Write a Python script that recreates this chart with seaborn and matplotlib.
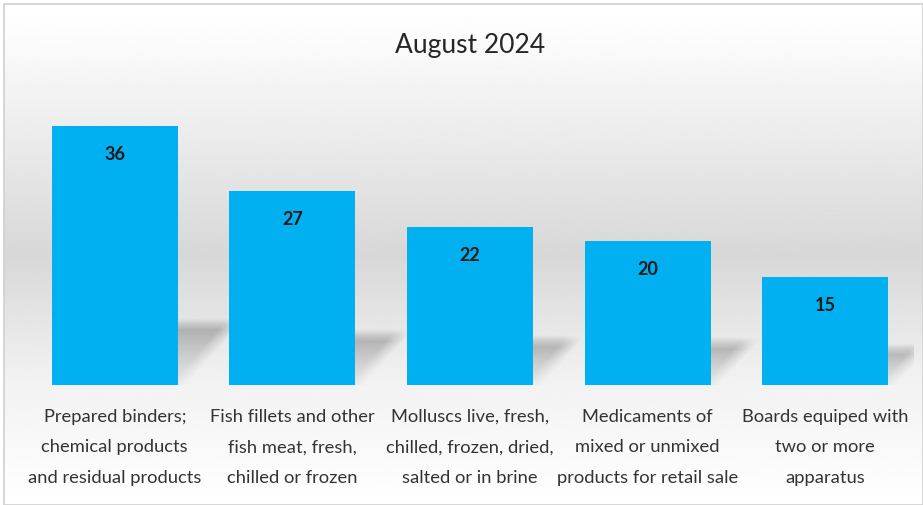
"""
August 2024 bar chart: top product groups
"""

import numpy as np
import pandas as pd
import matplotlib.pyplot as plt
import seaborn as sns
from matplotlib.patches import Rectangle

# %%
categories = [
    "Prepared binders;\nchemical products\nand residual products",
    "Fish fillets and other\nfish meat, fresh,\nchilled or frozen",
    "Molluscs live, fresh,\nchilled, frozen, dried,\nsalted or in brine",
    "Medicaments of\nmixed or unmixed\nproducts for retail sale",
    "Boards equiped with\ntwo or more\napparatus",
]
values = [36, 27, 22, 20, 15]
title = "August 2024"

df = pd.DataFrame({"category": categories, "value": values})

# %%
sns.set_style("white")
plt.rcParams["font.family"] = ["Lato", "DejaVu Sans"]

fig = plt.figure(figsize=(9.23, 5.05), dpi=100)

# background gradient (white -> light grey -> white)
bg = fig.add_axes([0.004, 0.0, 0.996, 0.992], zorder=0)
ys = np.linspace(0, 1, 256)
shade = np.interp(ys, [0, 0.06, 0.5, 0.76, 1.0], [1.0, 0.99, 0.845, 0.95, 1.0])
bg.imshow(shade[:, None], cmap="gray", vmin=0, vmax=1, aspect="auto",
          extent=[0, 1, 1, 0])
bg.set_xlim(0, 1)
bg.set_ylim(1, 0)
bg.axis("off")
bg.add_patch(Rectangle((0, 0), 1, 1, transform=bg.transAxes, fill=False,
                       edgecolor="#d0d0d0", lw=1.2, clip_on=False))

ax = fig.add_axes([26 / 923, 1 - 385 / 505, (914 - 26) / 923, (385 - 97) / 505],
                  zorder=1)
ax.patch.set_alpha(0)

bar_w = 0.71
sns.barplot(data=df, x="category", y="value", color="#00B0F0", width=bar_w,
            saturation=1, linewidth=0, edgecolor="none", ax=ax, zorder=3)

# soft perspective shadows behind bars
px_x, px_y = 178.0, 7.2  # pixels per data unit
for i, v in enumerate(values):
    left, right = i - bar_w / 2, i + bar_w / 2
    hs = 0.17 * v + 2.5
    dx = hs * 0.036
    xx = np.linspace(left, right + dx + 0.1, 200)
    yy = np.linspace(0, hs + 0.8, 80)
    X, Y = np.meshgrid(xx, yy)
    t = np.clip(Y / hs, 0, 1)
    d_edge = (right + dx * t - X) * px_x
    d_top = (hs - Y) * px_y
    soft = np.clip(d_edge / 18 + 0.5, 0, 1) * np.clip(d_top / 12 + 0.4, 0, 1)
    alpha = (0.10 + 0.30 * t ** 1.5) * soft
    img = np.zeros((80, 200, 4))
    img[..., :3] = 0.3
    img[..., 3] = alpha
    ax.imshow(img, extent=[xx[0], xx[-1], 0, yy[-1]], origin="lower",
              aspect="auto", zorder=2, interpolation="bilinear")

ax.set_ylim(0, 40)
ax.set_xlim(-0.5, len(values) - 0.5)

for i, v in enumerate(values):
    ax.text(i, v - 4.0, str(v), ha="center", va="center", fontsize=13,
            fontweight="bold", color="#1a1a1a", zorder=4)

ax.set_xlabel("")
ax.set_ylabel("")
ax.set_yticks([])
ax.tick_params(axis="x", length=0, pad=17, labelsize=13.2, labelcolor="#333333")
for lab in ax.get_xticklabels():
    lab.set_linespacing(2.12)
for sp in ax.spines.values():
    sp.set_visible(False)

fig.text(470 / 923, 1 - 45 / 505, title, ha="center", va="center",
         fontsize=19, color="#262626")

fig.savefig("out.png", dpi=100)
